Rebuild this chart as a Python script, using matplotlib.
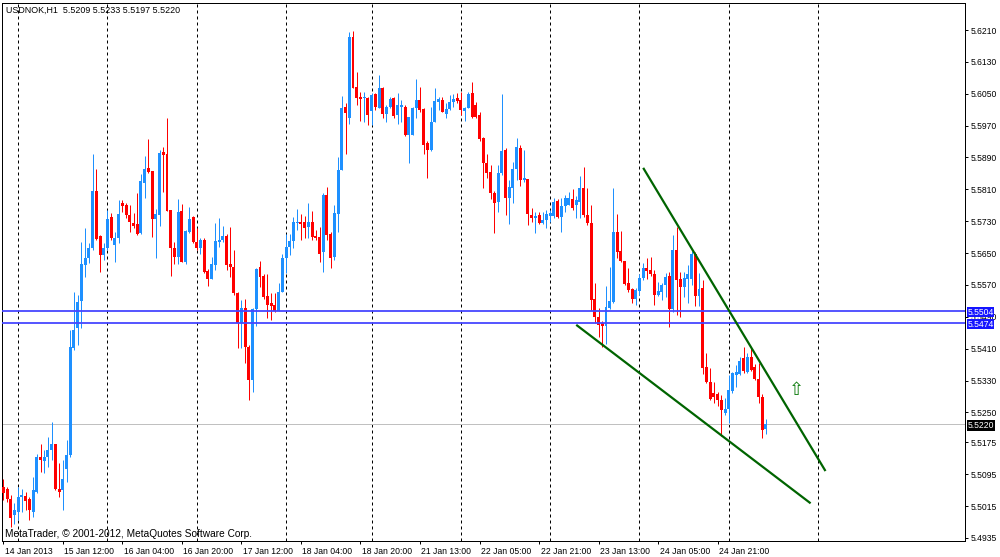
import matplotlib
matplotlib.use('Agg')
import matplotlib.pyplot as plt
import matplotlib.transforms as mtransforms
import numpy as np
import pandas as pd

# ---------------- data ----------------
symbol_title = "USDNOK,H1  5.5209 5.5233 5.5197 5.5220"
copyright_text = "MetaTrader, \u00a9 2001-2012, MetaQuotes Software Corp."

first_bar = "2013-01-14 20:00"
weekend_gap = ("2013-01-18 23:00", "2013-01-20 23:00")

opens = [
    5.5063, 5.5057, 5.5032, 5.4992, 5.5001, 5.5038, 5.5040, 5.5034, 5.5001, 5.5051,
    5.5137, 5.5129, 5.5139, 5.5156, 5.5171, 5.5059, 5.5055, 5.5109, 5.5143, 5.5411,
    5.5461, 5.5530, 5.5620, 5.5637, 5.5662, 5.5807, 5.5693, 5.5645, 5.5662, 5.5741,
    5.5670, 5.5687, 5.5777, 5.5771, 5.5746, 5.5726, 5.5723, 5.5700, 5.5827, 5.5863,
    5.5856, 5.5735, 5.5746, 5.5905, 5.5900, 5.5758, 5.5662, 5.5641, 5.5755, 5.5628,
    5.5704, 5.5740, 5.5679, 5.5664, 5.5682, 5.5606, 5.5586, 5.5620, 5.5679, 5.5683,
    5.5693, 5.5622, 5.5616, 5.5551, 5.5475, 5.5511, 5.5415, 5.5331, 5.5509, 5.5614,
    5.5592, 5.5543, 5.5524, 5.5520, 5.5505, 5.5553, 5.5638, 5.5666, 5.5680, 5.5725,
    5.5727, 5.5727, 5.5716, 5.5727, 5.5694, 5.5691, 5.5653, 5.5797, 5.5699, 5.5641,
    5.5747, 5.5859, 5.6018, 5.5988, 5.6193, 5.6068, 5.6043, 5.6039, 5.6040, 5.6007,
    5.6049, 5.6015, 5.6064, 5.5998, 5.6018, 5.6039, 5.5997, 5.6018, 5.6018, 5.5946,
    5.5946, 5.6013, 5.6034, 5.6012, 5.5926, 5.5909, 5.5980, 5.6030, 5.6034, 5.5998,
    5.6012, 5.6030, 5.6039, 5.6034, 5.6007, 5.6015, 5.6051, 5.6022, 5.5997, 5.5940,
    5.5875, 5.5854, 5.5800, 5.5779, 5.5850, 5.5909, 5.5789, 5.5814, 5.5861, 5.5913,
    5.5833, 5.5837, 5.5746, 5.5739, 5.5746, 5.5725, 5.5733, 5.5744, 5.5744, 5.5781,
    5.5741, 5.5769, 5.5772, 5.5787, 5.5771, 5.5779, 5.5814, 5.5746, 5.5725, 5.5535,
    5.5490, 5.5474, 5.5468, 5.5513, 5.5528, 5.5702, 5.5655, 5.5630, 5.5574, 5.5561,
    5.5535, 5.5555, 5.5588, 5.5612, 5.5607, 5.5597, 5.5546, 5.5553, 5.5570, 5.5593,
    5.5509, 5.5658, 5.5584, 5.5566, 5.5584, 5.5584, 5.5649, 5.5542, 5.5562, 5.5363,
    5.5327, 5.5299, 5.5296, 5.5281, 5.5248, 5.5258, 5.5305, 5.5344, 5.5346, 5.5386,
    5.5352, 5.5390, 5.5365, 5.5335, 5.5290, 5.5209,
]
highs = [
    5.5084, 5.5063, 5.5043, 5.5022, 5.5063, 5.5059, 5.5051, 5.5038, 5.5089, 5.5147,
    5.5172, 5.5156, 5.5189, 5.5227, 5.5172, 5.5122, 5.5130, 5.5181, 5.5457, 5.5553,
    5.5545, 5.5679, 5.5712, 5.5675, 5.5900, 5.5860, 5.5695, 5.5675, 5.5758, 5.5750,
    5.5704, 5.5783, 5.5783, 5.5775, 5.5771, 5.5750, 5.5802, 5.5848, 5.5894, 5.5936,
    5.5856, 5.5760, 5.5909, 5.5917, 5.5988, 5.5758, 5.5679, 5.5785, 5.5773, 5.5708,
    5.5765, 5.5743, 5.5712, 5.5689, 5.5687, 5.5609, 5.5641, 5.5725, 5.5737, 5.5718,
    5.5698, 5.5716, 5.5659, 5.5553, 5.5532, 5.5534, 5.5419, 5.5511, 5.5612, 5.5629,
    5.5597, 5.5597, 5.5549, 5.5549, 5.5574, 5.5649, 5.5697, 5.5697, 5.5741, 5.5761,
    5.5747, 5.5744, 5.5775, 5.5756, 5.5708, 5.5716, 5.5800, 5.5817, 5.5704, 5.5771,
    5.5890, 5.6045, 5.6026, 5.6204, 5.6207, 5.6105, 5.6055, 5.6055, 5.6043, 5.6051,
    5.6051, 5.6097, 5.6068, 5.6022, 5.6043, 5.6043, 5.6051, 5.6034, 5.6022, 5.5992,
    5.6018, 5.6087, 5.6068, 5.6013, 5.5931, 5.6018, 5.6064, 5.6043, 5.6043, 5.6028,
    5.6047, 5.6049, 5.6051, 5.6054, 5.6018, 5.6054, 5.6079, 5.6030, 5.6003, 5.5942,
    5.5898, 5.5871, 5.5806, 5.5871, 5.6049, 5.5913, 5.5833, 5.5879, 5.5938, 5.5921,
    5.5909, 5.5837, 5.5762, 5.5754, 5.5754, 5.5754, 5.5758, 5.5758, 5.5788, 5.5786,
    5.5789, 5.5797, 5.5804, 5.5811, 5.5794, 5.5844, 5.5867, 5.5813, 5.5771, 5.5574,
    5.5513, 5.5480, 5.5568, 5.5616, 5.5814, 5.5747, 5.5705, 5.5630, 5.5612, 5.5563,
    5.5563, 5.5597, 5.5624, 5.5637, 5.5639, 5.5608, 5.5578, 5.5574, 5.5601, 5.5603,
    5.5695, 5.5715, 5.5603, 5.5603, 5.5620, 5.5656, 5.5654, 5.5601, 5.5582, 5.5400,
    5.5361, 5.5327, 5.5302, 5.5294, 5.5286, 5.5344, 5.5352, 5.5369, 5.5388, 5.5415,
    5.5400, 5.5415, 5.5372, 5.5373, 5.5296, 5.5233,
]
lows = [
    5.5030, 5.5026, 5.4963, 5.4971, 5.4980, 5.5001, 5.5005, 5.4980, 5.4988, 5.5047,
    5.5101, 5.5097, 5.5114, 5.5130, 5.5055, 5.5038, 5.5005, 5.5076, 5.5139, 5.5407,
    5.5419, 5.5461, 5.5591, 5.5624, 5.5658, 5.5683, 5.5603, 5.5633, 5.5658, 5.5683,
    5.5628, 5.5675, 5.5754, 5.5737, 5.5704, 5.5712, 5.5695, 5.5698, 5.5789, 5.5852,
    5.5691, 5.5637, 5.5718, 5.5804, 5.5756, 5.5593, 5.5623, 5.5623, 5.5628, 5.5623,
    5.5701, 5.5676, 5.5658, 5.5649, 5.5601, 5.5567, 5.5584, 5.5607, 5.5666, 5.5679,
    5.5607, 5.5589, 5.5545, 5.5411, 5.5411, 5.5373, 5.5281, 5.5302, 5.5467, 5.5566,
    5.5536, 5.5486, 5.5482, 5.5503, 5.5505, 5.5553, 5.5599, 5.5645, 5.5662, 5.5708,
    5.5683, 5.5687, 5.5687, 5.5683, 5.5683, 5.5627, 5.5602, 5.5683, 5.5613, 5.5633,
    5.5704, 5.5859, 5.5898, 5.5973, 5.6064, 5.6022, 5.5982, 5.5980, 5.5972, 5.5972,
    5.6009, 5.6013, 5.5988, 5.5980, 5.6013, 5.5990, 5.5975, 5.5980, 5.5945, 5.5875,
    5.5946, 5.5990, 5.6005, 5.5900, 5.5838, 5.5906, 5.5978, 5.6009, 5.6003, 5.5988,
    5.6009, 5.6018, 5.6026, 5.5997, 5.5982, 5.6013, 5.5990, 5.5990, 5.5931, 5.5814,
    5.5838, 5.5787, 5.5700, 5.5754, 5.5846, 5.5746, 5.5722, 5.5775, 5.5833, 5.5819,
    5.5829, 5.5720, 5.5729, 5.5700, 5.5722, 5.5722, 5.5714, 5.5729, 5.5739, 5.5739,
    5.5702, 5.5754, 5.5771, 5.5758, 5.5737, 5.5737, 5.5741, 5.5721, 5.5507, 5.5474,
    5.5440, 5.5415, 5.5421, 5.5510, 5.5524, 5.5637, 5.5628, 5.5570, 5.5553, 5.5524,
    5.5521, 5.5545, 5.5583, 5.5585, 5.5593, 5.5521, 5.5543, 5.5532, 5.5541, 5.5464,
    5.5503, 5.5495, 5.5489, 5.5541, 5.5524, 5.5570, 5.5517, 5.5517, 5.5346, 5.5325,
    5.5281, 5.5274, 5.5266, 5.5191, 5.5244, 5.5224, 5.5300, 5.5315, 5.5344, 5.5350,
    5.5350, 5.5355, 5.5331, 5.5273, 5.5185, 5.5197,
]
closes = [
    5.5048, 5.5034, 5.4984, 5.5005, 5.5038, 5.5043, 5.5028, 5.5005, 5.5055, 5.5139,
    5.5130, 5.5139, 5.5156, 5.5171, 5.5057, 5.5051, 5.5084, 5.5143, 5.5415, 5.5457,
    5.5528, 5.5623, 5.5637, 5.5662, 5.5807, 5.5685, 5.5645, 5.5662, 5.5735, 5.5687,
    5.5687, 5.5748, 5.5768, 5.5746, 5.5729, 5.5718, 5.5697, 5.5831, 5.5860, 5.5854,
    5.5735, 5.5748, 5.5902, 5.5896, 5.5756, 5.5662, 5.5641, 5.5754, 5.5628, 5.5706,
    5.5735, 5.5679, 5.5664, 5.5684, 5.5603, 5.5584, 5.5622, 5.5681, 5.5684, 5.5693,
    5.5620, 5.5616, 5.5549, 5.5475, 5.5511, 5.5415, 5.5331, 5.5509, 5.5609, 5.5591,
    5.5541, 5.5521, 5.5518, 5.5505, 5.5553, 5.5638, 5.5666, 5.5680, 5.5727, 5.5729,
    5.5722, 5.5714, 5.5727, 5.5691, 5.5689, 5.5649, 5.5797, 5.5695, 5.5638, 5.5750,
    5.5859, 5.6015, 5.6001, 5.6193, 5.6065, 5.6040, 5.6037, 5.6043, 5.5997, 5.6047,
    5.6018, 5.6065, 5.5998, 5.6018, 5.6037, 5.5993, 5.6022, 5.6023, 5.5946, 5.5992,
    5.6015, 5.6034, 5.6009, 5.5921, 5.5909, 5.5978, 5.6032, 5.6037, 5.6005, 5.6012,
    5.6030, 5.6037, 5.6032, 5.6009, 5.6015, 5.6049, 5.5992, 5.5992, 5.5936, 5.5875,
    5.5850, 5.5800, 5.5777, 5.5850, 5.5906, 5.5789, 5.5817, 5.5861, 5.5917, 5.5833,
    5.5839, 5.5747, 5.5739, 5.5743, 5.5725, 5.5733, 5.5747, 5.5750, 5.5779, 5.5741,
    5.5769, 5.5789, 5.5789, 5.5762, 5.5783, 5.5814, 5.5746, 5.5725, 5.5532, 5.5490,
    5.5469, 5.5468, 5.5516, 5.5530, 5.5702, 5.5654, 5.5630, 5.5572, 5.5557, 5.5535,
    5.5557, 5.5588, 5.5612, 5.5605, 5.5597, 5.5546, 5.5555, 5.5571, 5.5589, 5.5509,
    5.5658, 5.5582, 5.5566, 5.5587, 5.5598, 5.5649, 5.5542, 5.5559, 5.5361, 5.5327,
    5.5285, 5.5289, 5.5281, 5.5256, 5.5258, 5.5306, 5.5348, 5.5352, 5.5380, 5.5355,
    5.5390, 5.5356, 5.5333, 5.5288, 5.5206, 5.5220,
]

price_ticks = [5.6210, 5.6130, 5.6050, 5.5970, 5.5890, 5.5810, 5.5730, 5.5650,
               5.5570, 5.5490, 5.5410, 5.5330, 5.5250, 5.5175, 5.5095, 5.5015, 5.4935]
support_levels = [5.5504, 5.5474]
bid_price = 5.5220
upper_trend_bars = [172, 221]
upper_trend_prices = [5.5864, 5.5103]
lower_trend_bars = [154, 217]
lower_trend_prices = [5.5470, 5.5022]
arrow_bar = 213.3
arrow_price = 5.5307
label_every = 16

# ---------------- styling ----------------
plt.rcParams['font.family'] = ['Liberation Sans', 'DejaVu Sans']
BULL = '#1E90FF'
BEAR = '#FF0000'
PX = 0.72  # one pixel in points at dpi=100

fig = plt.figure(figsize=(10, 5.57), dpi=100)
fig.patch.set_facecolor('white')
ax = fig.add_axes([0.002, 16 / 557, 0.963, 538 / 557])
ax.set_facecolor('white')

o = np.array(opens); h = np.array(highs); l = np.array(lows); c = np.array(closes)
n = len(o)
x = np.arange(n)

# bar times (hourly, weekend removed)
rng = pd.date_range(first_bar, periods=n + 80, freq='h')
rng = rng[(rng < pd.Timestamp(weekend_gap[0])) | (rng > pd.Timestamp(weekend_gap[1]))]
times = rng[:n]

# day separators
sep_idx = [i for i in range(n) if times[i].hour == 0]
future = pd.date_range(times[-1], periods=48, freq='h')
for k, t in enumerate(future[1:], start=1):
    if t.hour == 0:
        sep_idx.append(n - 1 + k)
        break
for s in sep_idx:
    ax.axvline(s, color='black', lw=PX, linestyle=(0, (3, 3)), zorder=1)

# candles
up = c >= o
cols = np.where(up, BULL, BEAR)
ax.vlines(x, l, h, colors=cols, lw=PX, zorder=3)
body_bot = np.minimum(o, c)
body_h = np.maximum(np.abs(c - o), 0.00003)
ax.bar(x, body_h, bottom=body_bot, width=0.8, color=cols, linewidth=0, zorder=4)

# horizontal levels
for lev in support_levels:
    ax.axhline(lev, color='#4646ff', lw=1.3, zorder=5)
ax.axhline(bid_price, color='#c0c0c0', lw=PX, zorder=2)

# trend lines
ax.plot(upper_trend_bars, upper_trend_prices, color='#006400', lw=1.6, zorder=6,
        solid_capstyle='butt')
ax.plot(lower_trend_bars, lower_trend_prices, color='#006400', lw=1.6, zorder=6,
        solid_capstyle='butt')
ax.text(arrow_bar, arrow_price, '\u21e7', color='#0a7a0a', fontsize=13,
        ha='center', va='center', family=['DejaVu Sans'], zorder=7)

# limits
ax.set_xlim(-0.35, 258.5)
ax.set_ylim(5.49274, 5.62778)

for sp in ax.spines.values():
    sp.set_color('black')
    sp.set_linewidth(PX)

# y axis on right
ax.yaxis.tick_right()
ax.set_yticks(price_ticks)
ax.set_yticklabels([f"{v:.4f}" for v in price_ticks])
ax.tick_params(axis='y', which='both', direction='out', length=2.2, width=PX,
               pad=2.0, labelsize=6.2, left=False, right=True, colors='black')

# x axis labels
tick_idx = list(range(0, n, label_every))
tick_lbl = []
for i in tick_idx:
    if i == 0:
        tick_lbl.append(times[i].strftime('%d %b %Y'))
    else:
        tick_lbl.append(times[i].strftime('%d %b %H:%M'))
ax.set_xticks(tick_idx)
ax.set_xticklabels(tick_lbl, ha='left')
ax.tick_params(axis='x', direction='out', length=2.5, width=PX, pad=1.8,
               labelsize=6.2, colors='black')
offset = mtransforms.ScaledTranslation(1.5 / 100, 0, fig.dpi_scale_trans)
for lab in ax.get_xticklabels():
    lab.set_transform(lab.get_transform() + offset)

# price labels on right axis
btrans = mtransforms.blended_transform_factory(ax.transAxes, ax.transData)
for lev in support_levels:
    ax.text(1.0025, lev, f"{lev:.4f}", transform=btrans, ha='left', va='center_baseline',
            fontsize=6.2, color='white', clip_on=False, zorder=20,
            bbox=dict(boxstyle='square,pad=0.06', fc='#1414ff', ec='none'))
ax.text(1.0025, bid_price, f"{bid_price:.4f}", transform=btrans, ha='left',
        va='center_baseline', fontsize=6.2, color='white', clip_on=False, zorder=20,
        bbox=dict(boxstyle='square,pad=0.08', fc='black', ec='none'))

# header and copyright
fig.text(6 / 1000, 1 - 10 / 557, symbol_title, fontsize=6.4, ha='left', va='center',
         color='black')
fig.text(5 / 1000, 1 - 534 / 557, copyright_text, fontsize=7.3, ha='left', va='center',
         color='black')

fig.savefig('out.png', dpi=100, facecolor='white')
